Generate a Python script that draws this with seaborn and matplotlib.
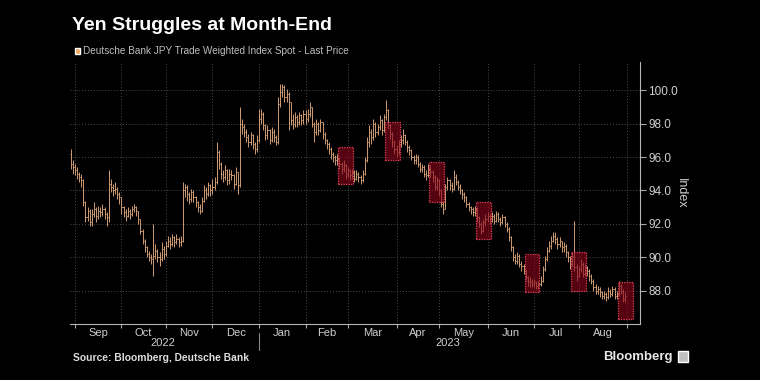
import numpy as np
import pandas as pd
import matplotlib
matplotlib.use("Agg")
import matplotlib.pyplot as plt
import matplotlib.transforms as mtransforms
from matplotlib.patches import Rectangle
import seaborn as sns

# ==============================
# DATA (daily bars, business days 2022-08-30 .. 2023-08-31)
# ==============================

first_open = 96.2

close = [
    95.6, 95.4,
    95.2, 95.0, 94.8, 94.6, 93.3, 92.4, 92.8, 92.1, 92.6, 92.9, 92.5, 92.8, 92.7, 92.9, 92.6, 92.4, 94.4, 94.2, 94.0, 94.1, 93.8, 93.6,
    93.0, 92.7, 92.5, 92.8, 92.6, 92.9, 93.0, 92.8, 92.3, 91.6, 91.0, 90.6, 90.2, 90.0, 89.9, 90.1, 90.4, 90.0, 89.9, 90.5, 90.2,
    90.7, 91.0, 90.8, 91.2, 90.9, 91.1, 90.9, 91.0, 94.0, 94.2, 93.8, 93.5, 93.9, 93.6, 93.3, 93.0, 92.8, 93.4, 94.0, 93.8, 94.3, 94.0,
    94.2, 94.5, 96.3, 95.6, 95.0, 94.8, 95.2, 94.6, 95.0, 94.9, 94.4, 95.1, 94.3, 98.0, 97.8, 97.5, 97.2, 96.9, 97.3, 96.8, 96.5, 97.0,
    98.3, 98.6, 97.9, 97.3, 97.6, 97.0, 97.5, 97.2, 96.9, 99.2, 99.9, 100.2, 99.6, 99.8, 99.3, 98.2, 98.0, 98.4, 98.1, 98.5, 98.2, 98.6,
    98.3, 98.6, 99.0, 98.0, 97.5, 98.0, 97.6, 98.1, 97.4, 97.0, 96.8, 96.5, 96.2, 96.0, 95.8, 95.9, 95.6, 95.3, 95.5, 95.0,
    95.2, 94.9, 95.1, 94.7, 95.0, 94.8, 94.6, 95.0, 95.8, 96.9, 97.5, 97.2, 98.0, 97.5, 97.8, 98.2, 97.6, 98.4, 98.8, 97.9, 97.4, 96.9, 96.5,
    96.3, 96.8, 97.0, 97.3, 96.9, 96.6, 96.4, 96.0, 95.8, 96.0, 95.6, 95.3, 95.4, 95.0, 94.9, 95.3, 95.1, 94.8, 94.2, 94.6,
    94.0, 93.2, 92.9, 94.2, 94.6, 94.3, 94.1, 94.8, 94.5, 94.2, 94.0, 93.8, 93.6, 93.2, 93.0, 92.9, 92.7, 92.9, 92.4, 92.0, 91.6, 92.1, 92.3,
    92.5, 92.3, 92.5, 92.2, 92.6, 92.3, 92.1, 92.4, 92.0, 91.7, 91.2, 90.6, 90.0, 89.8, 90.1, 89.6, 89.5, 89.2, 88.8, 88.6, 88.5, 88.4,
    88.5, 88.3, 88.4, 88.6, 89.3, 89.9, 90.4, 90.7, 91.0, 91.3, 91.1, 90.8, 91.0, 90.6, 90.7, 90.3, 90.0, 89.6, 90.1, 89.4, 88.9,
    89.3, 89.6, 89.0, 89.4, 89.2, 88.9, 88.6, 88.2, 88.0, 88.1, 87.9, 87.7, 87.8, 87.6, 88.0, 87.8, 88.1, 87.7, 87.8, 88.3, 88.0, 87.5, 87.7,
]

high = [
    96.5, 95.8,
    95.6, 95.4, 95.1, 95.0, 94.7, 93.4, 93.0, 92.9, 92.9, 93.3, 93.0, 93.1, 93.0, 93.2, 93.0, 92.7, 95.2, 94.7, 94.4, 94.5, 94.2, 93.9,
    93.6, 93.1, 92.9, 93.0, 92.9, 93.1, 93.2, 93.1, 92.8, 92.3, 91.7, 91.1, 90.7, 90.4, 90.2, 92.0, 90.8, 90.5, 90.3, 90.9, 90.7,
    91.0, 91.3, 91.2, 91.4, 91.3, 91.4, 91.2, 91.3, 94.5, 94.4, 94.3, 93.9, 94.1, 94.0, 93.7, 93.4, 93.2, 93.6, 94.3, 94.2, 94.5, 94.4,
    94.7, 94.8, 96.9, 96.4, 95.7, 95.2, 95.5, 95.3, 95.3, 95.2, 95.0, 95.4, 95.1, 99.0, 98.3, 98.0, 97.7, 97.4, 97.5, 97.4, 96.9, 97.3,
    98.9, 98.9, 98.7, 98.0, 97.9, 97.7, 97.8, 97.7, 97.3, 99.6, 100.4, 100.4, 100.3, 100.1, 99.9, 99.3, 98.6, 98.7, 98.5, 98.7, 98.6, 98.8,
    98.8, 98.9, 99.3, 99.0, 98.1, 98.3, 98.1, 98.3, 98.1, 97.5, 97.1, 96.9, 96.6, 96.3, 96.1, 96.2, 96.0, 95.7, 95.8, 95.6,
    95.4, 95.3, 95.3, 95.2, 95.2, 95.1, 94.9, 95.2, 96.0, 97.2, 97.9, 97.7, 98.3, 98.1, 98.0, 98.5, 98.3, 98.6, 99.4, 98.9, 98.0, 97.5, 97.0,
    96.7, 97.0, 97.3, 97.7, 97.4, 97.0, 96.7, 96.5, 96.1, 96.2, 96.1, 95.7, 95.6, 95.5, 95.2, 95.6, 95.5, 95.2, 94.9, 94.8,
    94.7, 94.1, 93.4, 94.4, 94.8, 94.7, 94.5, 95.2, 95.0, 94.6, 94.4, 94.1, 93.9, 93.7, 93.3, 93.1, 93.0, 93.1, 93.0, 92.5, 92.1, 92.3, 92.6,
    92.7, 92.6, 92.7, 92.6, 92.8, 92.7, 92.4, 92.6, 92.5, 92.1, 91.8, 91.3, 90.7, 90.2, 90.3, 90.2, 89.8, 89.6, 89.3, 88.9, 88.8, 88.7,
    88.7, 88.6, 88.6, 88.9, 89.5, 90.1, 90.6, 91.0, 91.3, 91.5, 91.5, 91.2, 91.2, 91.0, 90.9, 90.8, 90.4, 90.1, 90.3, 92.2, 89.6,
    89.5, 89.9, 89.7, 89.6, 89.5, 89.3, 89.0, 88.7, 88.4, 88.3, 88.2, 88.0, 88.0, 87.9, 88.2, 88.1, 88.3, 88.2, 88.0, 88.6, 88.4, 88.1, 87.9,
]

low = [
    95.3, 95.0,
    94.9, 94.7, 94.5, 94.2, 93.1, 92.1, 92.2, 91.9, 91.9, 92.4, 92.1, 92.3, 92.4, 92.5, 92.3, 91.9, 92.1, 93.9, 93.7, 93.8, 93.5, 93.2,
    92.6, 92.4, 92.2, 92.4, 92.3, 92.5, 92.7, 92.5, 92.0, 91.4, 90.8, 90.3, 90.0, 89.8, 89.6, 88.9, 89.9, 89.7, 89.5, 89.8, 89.9,
    90.1, 90.6, 90.5, 90.7, 90.6, 90.8, 90.6, 90.7, 90.9, 93.6, 93.4, 93.2, 93.3, 93.3, 93.0, 92.7, 92.6, 92.7, 93.3, 93.5, 93.7, 93.7,
    93.8, 94.0, 94.4, 95.3, 94.7, 94.5, 94.6, 94.3, 94.4, 94.6, 94.1, 94.3, 93.8, 94.2, 97.4, 97.2, 96.9, 96.6, 96.7, 96.5, 96.2, 96.3,
    96.9, 98.0, 97.6, 97.0, 97.1, 96.8, 96.9, 96.9, 96.7, 96.8, 99.0, 99.6, 99.3, 99.3, 97.6, 97.9, 97.7, 97.8, 97.8, 97.9, 97.9, 98.0,
    98.0, 98.1, 98.4, 97.8, 96.9, 97.3, 97.3, 97.5, 97.1, 96.8, 96.5, 96.2, 95.9, 95.7, 95.5, 95.5, 95.3, 95.0, 95.1, 94.7,
    94.8, 94.6, 94.7, 94.5, 94.6, 94.5, 94.4, 94.5, 94.9, 95.7, 96.6, 96.8, 97.0, 97.2, 97.3, 97.6, 97.3, 97.5, 98.2, 97.7, 97.1, 96.6, 96.2,
    96.0, 96.1, 96.6, 96.8, 96.7, 96.3, 96.1, 95.8, 95.6, 95.6, 95.4, 95.1, 95.1, 94.8, 94.6, 94.8, 94.8, 94.5, 94.0, 94.0,
    93.7, 93.0, 92.6, 92.9, 94.0, 94.0, 93.9, 94.0, 94.3, 94.0, 93.8, 93.5, 93.3, 93.0, 92.8, 92.6, 92.5, 92.5, 92.1, 91.8, 91.4, 91.5, 91.9,
    92.1, 92.0, 92.1, 92.0, 92.1, 92.1, 91.9, 92.0, 91.8, 91.5, 91.0, 90.4, 89.8, 89.6, 89.6, 89.4, 89.2, 89.0, 88.6, 88.3, 88.2, 88.2,
    88.2, 88.1, 88.1, 88.3, 88.5, 89.2, 89.8, 90.3, 90.5, 90.9, 90.8, 90.5, 90.6, 90.3, 90.3, 90.0, 89.7, 89.3, 89.5, 89.2, 88.6,
    88.8, 89.1, 88.8, 88.9, 88.9, 88.6, 88.4, 88.0, 87.8, 87.8, 87.6, 87.5, 87.5, 87.4, 87.5, 87.6, 87.7, 87.5, 87.5, 87.7, 87.8, 87.3, 87.3,
]

# month-end highlight windows
box_starts = ["2023-02-23", "2023-03-27", "2023-04-25", "2023-05-25", "2023-06-27", "2023-07-27", "2023-08-28"]
box_ends = ["2023-03-03", "2023-04-04", "2023-05-03", "2023-06-02", "2023-07-05", "2023-08-04", "2023-09-05"]
box_lows = [94.4, 95.8, 93.3, 91.1, 87.9, 88.0, 86.3]
box_highs = [96.6, 98.1, 95.7, 93.3, 90.2, 90.3, 88.5]

y_ticks = [88, 90, 92, 94, 96, 98, 100]

dates = pd.bdate_range("2022-08-30", "2023-08-31")
axis_dates = pd.bdate_range("2022-08-30", "2023-09-08")

df = pd.DataFrame({"date": dates, "close": close, "high": high, "low": low})
df["open"] = [first_open] + close[:-1]
df["x"] = np.arange(len(df))

# ==============================
# STYLE
# ==============================

sns.set_theme(style="dark", rc={
    "axes.facecolor": "black",
    "figure.facecolor": "black",
    "savefig.facecolor": "black",
})
plt.rcParams["font.family"] = ["Liberation Sans", "DejaVu Sans"]

bar_color = "#cf9c74"
text_color = "#cfcfcf"

fig = plt.figure(figsize=(7.6, 3.8), dpi=100)
ax = fig.add_axes([70 / 760, 1 - 324 / 380, 570 / 760, 262 / 380])

# ==============================
# OHLC BARS
# ==============================

ax.vlines(df["x"], df["low"], df["high"], color=bar_color, lw=0.7, zorder=3)
ax.hlines(df["open"], df["x"] - 0.5, df["x"], color=bar_color, lw=0.7, zorder=3)
ax.hlines(df["close"], df["x"], df["x"] + 0.5, color=bar_color, lw=0.7, zorder=3)

# month-end boxes
pos = pd.Series(np.arange(len(axis_dates)), index=axis_dates)
for s, e, lo, hi in zip(box_starts, box_ends, box_lows, box_highs):
    x0 = pos[pd.Timestamp(s)] - 0.5
    x1 = pos[pd.Timestamp(e)] + 0.5
    ax.add_patch(Rectangle((x0, lo), x1 - x0, hi - lo,
                           facecolor=(0.55, 0.02, 0.11, 0.62), edgecolor="#e8405a",
                           lw=0.9, linestyle=(0, (1, 1)), zorder=4))

# ==============================
# AXES
# ==============================

ax.set_xlim(-0.3, 269)
ax.set_ylim(86.0, 101.7)

month_starts = [i for i in range(1, len(axis_dates)) if axis_dates[i].month != axis_dates[i - 1].month]
mids = [(a + b) / 2 for a, b in zip(month_starts[:-1], month_starts[1:])]
ax.set_xticks(month_starts)
ax.set_xticklabels([])
ax.set_xticks(mids, minor=True)
ax.set_xticklabels([axis_dates[m].strftime("%b") for m in month_starts[:-1]], minor=True)
ax.tick_params(axis="x", which="major", bottom=True, length=3, color="#aaaaaa", width=0.8)
ax.tick_params(axis="x", which="minor", bottom=True, length=0, labelsize=8, labelcolor=text_color, pad=3)

ax.yaxis.tick_right()
ax.yaxis.set_label_position("right")
ax.set_yticks(y_ticks)
ax.set_yticklabels([f"{v:.1f}" for v in y_ticks])
ax.tick_params(axis="y", which="major", right=True, left=False, length=4, color="#aaaaaa",
               width=0.8, labelsize=8.5, labelcolor=text_color, pad=2)
ax.set_ylabel("Index", rotation=270, color=text_color, fontsize=9, labelpad=6)

ax.grid(True, which="major", color="#4d4d4d", linestyle=(0, (1, 2)), lw=0.7)
for side in ["left", "top"]:
    ax.spines[side].set_visible(False)
for side in ["right", "bottom"]:
    ax.spines[side].set_visible(True)
    ax.spines[side].set_color("#b5b5b5")
    ax.spines[side].set_linewidth(0.8)

# year labels and divider
trans = mtransforms.blended_transform_factory(ax.transData, ax.transAxes)
jan = month_starts[4]
ax.text((month_starts[0] + jan) / 2 - 2, -0.0725, "2022", transform=trans, ha="center", va="center",
        fontsize=8, color=text_color)
ax.text((jan + month_starts[-1]) / 2 + 2, -0.0725, "2023", transform=trans, ha="center", va="center",
        fontsize=8, color=text_color)
ax.plot([jan, jan], [-0.034, -0.099], transform=trans, color="#888888", lw=0.8, clip_on=False)

# ==============================
# TITLES / NOTES
# ==============================

fig.text(72 / 760, 1 - 25 / 380, "Yen Struggles at Month-End", fontsize=14, fontweight="bold",
         color="white", va="center", ha="left")
fig.patches.append(Rectangle((75 / 760, 1 - 54 / 380), 5 / 760, 6 / 380, facecolor="#f0a35a",
                             transform=fig.transFigure, figure=fig))
fig.text(83 / 760, 1 - 51 / 380, "Deutsche Bank JPY Trade Weighted Index Spot - Last Price",
         fontsize=7.2, color="#bdbdbd", va="center", ha="left")
fig.text(73 / 760, 1 - 358 / 380, "Source: Bloomberg, Deutsche Bank", fontsize=7.4, fontweight="bold",
         color="#dddddd", va="center", ha="left")
fig.text(673 / 760, 1 - 357 / 380, "Bloomberg", fontsize=9.5, fontweight="bold",
         color="#e6e6e6", va="center", ha="right")
fig.patches.append(Rectangle((678 / 760, 1 - 362 / 380), 10 / 760, 11 / 380, facecolor="#bfbfbf",
                             transform=fig.transFigure, figure=fig))

fig.savefig("out.png", dpi=100, facecolor="black")
